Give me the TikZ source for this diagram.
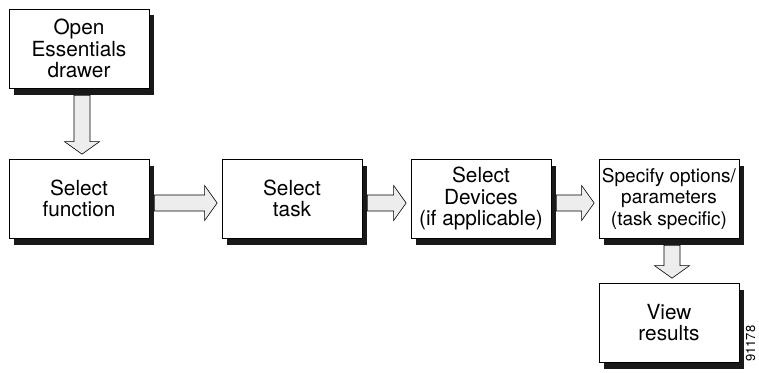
\documentclass[tikz,border=0pt]{standalone}
\usepackage{fontspec}
\setmainfont{TeX Gyre Heros}
\usetikzlibrary{calc,shadows}

\definecolor{arrowfill}{gray}{0.93}

\tikzset{
  stepbox/.style={rectangle, draw=black, line width=0.7pt, fill=white,
    minimum width=140pt, minimum height=79pt, inner sep=0pt, align=center,
    font=\fontsize{20.8}{21.5}\selectfont,
    drop shadow={shadow xshift=5pt, shadow yshift=-6.5pt, fill=black!90, opacity=1}},
  harrow/.style={draw=black, fill=arrowfill, line width=0.6pt, line join=miter,
    to path={let \p1=(\tikztostart.east), \p2=(\tikztotarget.west), \p3=(\tikztostart.center) in
      (\x1+5pt,\y3+3.5pt) -- (\x2-17pt,\y3+3.5pt) -- (\x2-17pt,\y3+13pt) -- (\x2-4.5pt,\y3-4.5pt)
      -- (\x2-17pt,\y3-22pt) -- (\x2-17pt,\y3-12.5pt) -- (\x1+5pt,\y3-12.5pt) -- cycle}},
  varrow/.style={draw=black, fill=arrowfill, line width=0.6pt, line join=miter,
    to path={let \p1=(\tikztostart.south), \p2=(\tikztotarget.north), \p3=(\tikztostart.center) in
      (\x3-5pt,\y1-7pt) -- (\x3-5pt,\y2+17pt) -- (\x3-14.5pt,\y2+17pt) -- (\x3+3pt,\y2+4.5pt)
      -- (\x3+20.5pt,\y2+17pt) -- (\x3+11pt,\y2+17pt) -- (\x3+11pt,\y1-7pt) -- cycle}}
}

\begin{document}
\begin{tikzpicture}[node distance = 150pt]
  \useasboundingbox (-79pt,48.5pt) rectangle (680pt,-323.5pt);

  \node[stepbox] (open) {Open\\Essentials\\drawer};
  \node[stepbox, below of = open] (function) {Select\\function};
  \node[stepbox, right of = function, node distance = 213pt] (task) {Select\\task};
  \node[stepbox, right of = task, node distance = 189pt] (devices) {Select\\Devices\\(if applicable)};
  \node[stepbox, right of = devices, node distance = 188pt, font=\fontsize{19}{21.5}\selectfont]
  (options) {Specify options/\\parameters\\(task specific)};
  \node[stepbox, below of = options, node distance = 124pt] (results) {View\\results};

  \draw[varrow] (open) to (function);
  \draw[harrow] (function) to (task);
  \draw[harrow] (task) to (devices);
  \draw[harrow] (devices) to (options);
  \draw[varrow] (options) to (results);

  % figure number at the lower right edge
  \node[rotate=90, anchor=east, inner sep=0pt, font=\fontsize{13}{13}\selectfont]
  (figid) at (671.5pt,-277pt) {91178};
\end{tikzpicture}
\end{document}
